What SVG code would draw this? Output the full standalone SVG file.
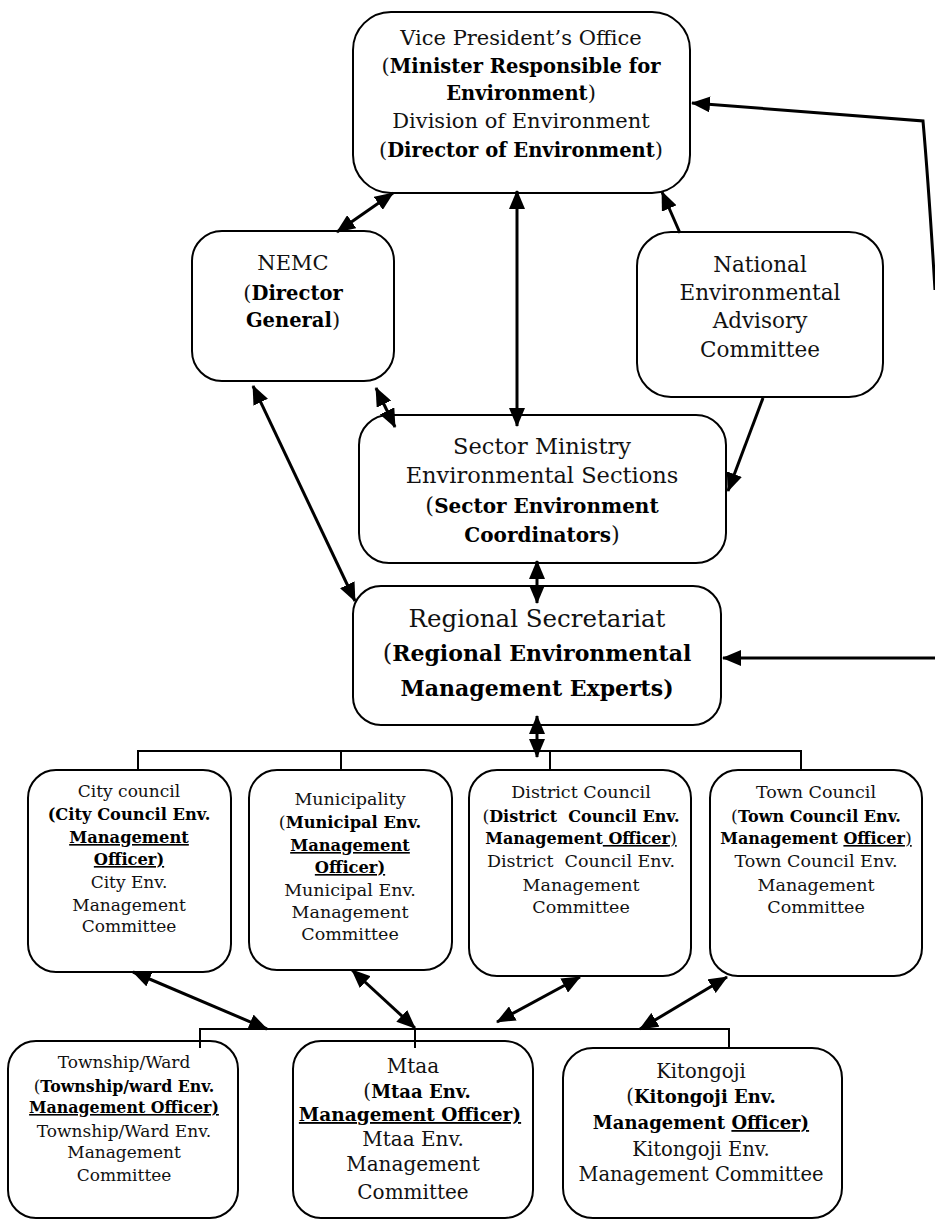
<svg xmlns="http://www.w3.org/2000/svg" width="935" height="1221" viewBox="0 0 935 1221">
<style>
.box{fill:#fff;stroke:#000;stroke-width:2}
.t{font-family:"DejaVu Serif","Liberation Serif",serif;fill:#111;text-anchor:middle}
.b{font-weight:bold;fill:#000}
.u{text-decoration:underline}
.pre{white-space:pre}
.conn{stroke:#000;stroke-width:3;fill:none}
.bus{stroke:#000;stroke-width:2;fill:none}
</style>
<defs>
<marker id="ah" markerUnits="userSpaceOnUse" markerWidth="20" markerHeight="16" refX="18" refY="8" orient="auto-start-reverse">
<path d="M0,0 L19,8 L0,16 Z" fill="#000"/>
</marker>
</defs>
<rect width="935" height="1221" fill="#fff"/>

<g id="vpo">
<rect class="box" x="353" y="12" width="337" height="181" rx="38"/>
<text class="t" font-size="21" x="521" y="45">Vice President’s Office</text>
<text class="t" font-size="21" x="521" y="73">(<tspan class="b" font-size="19.5">Minister Responsible for</tspan></text>
<text class="t" font-size="21" x="521" y="100"><tspan class="b" font-size="19.5">Environment</tspan>)</text>
<text class="t" font-size="21" x="521" y="128">Division of Environment</text>
<text class="t" font-size="21" x="521" y="157">(<tspan class="b" font-size="19.5">Director of Environment</tspan>)</text>
</g>

<g id="nemc">
<rect class="box" x="192" y="231" width="202" height="150" rx="30"/>
<text class="t" font-size="21" x="293" y="270">NEMC</text>
<text class="t" font-size="21" x="293" y="300">(<tspan class="b" font-size="19.5">Director</tspan></text>
<text class="t" font-size="21" x="293" y="327"><tspan class="b" font-size="19.5">General</tspan>)</text>
</g>

<g id="neac">
<rect class="box" x="637" y="232" width="246" height="165" rx="34"/>
<text class="t" font-size="21.5" x="760" y="272">National</text>
<text class="t" font-size="21.5" x="760" y="300">Environmental</text>
<text class="t" font-size="21.5" x="760" y="328">Advisory</text>
<text class="t" font-size="21.5" x="760" y="357">Committee</text>
</g>

<g id="sector">
<rect class="box" x="359" y="415" width="367" height="148" rx="30"/>
<text class="t" font-size="22.5" x="542" y="454">Sector Ministry</text>
<text class="t" font-size="22.5" x="542" y="483">Environmental Sections</text>
<text class="t" font-size="22.5" x="542" y="513">(<tspan class="b" font-size="20">Sector Environment</tspan></text>
<text class="t" font-size="22.5" x="542" y="542"><tspan class="b" font-size="20">Coordinators</tspan>)</text>
</g>

<g id="rs">
<rect class="box" x="353" y="586" width="368" height="139" rx="28"/>
<text class="t" font-size="24.5" x="537" y="627">Regional Secretariat</text>
<text class="t" font-size="24.5" x="537" y="661">(<tspan class="b" font-size="22">Regional Environmental</tspan></text>
<text class="t" font-size="24.5" x="537" y="696"><tspan class="b" font-size="22">Management Experts)</tspan></text>
</g>

<g id="city">
<rect class="box" x="28" y="770" width="203" height="202" rx="28"/>
<text class="t" font-size="17" x="129" y="797">City council</text>
<text class="t b" font-size="16.3" x="129" y="820">(City Council Env.</text>
<text class="t b u" font-size="16.3" x="129" y="843">Management</text>
<text class="t b u" font-size="16.3" x="129" y="865">Officer)</text>
<text class="t" font-size="17" x="129" y="888">City Env.</text>
<text class="t" font-size="17" x="129" y="911">Management</text>
<text class="t" font-size="17" x="129" y="932">Committee</text>
</g>

<g id="municipality">
<rect class="box" x="249" y="770" width="203" height="200" rx="28"/>
<text class="t" font-size="17.5" x="350" y="805">Municipality</text>
<text class="t" font-size="17.5" x="350" y="828">(<tspan class="b" font-size="16.3">Municipal Env.</tspan></text>
<text class="t b u" font-size="16.3" x="350" y="851">Management</text>
<text class="t b u" font-size="16.3" x="350" y="873">Officer)</text>
<text class="t" font-size="17.5" x="350" y="896">Municipal Env.</text>
<text class="t" font-size="17.5" x="350" y="918">Management</text>
<text class="t" font-size="17.5" x="350" y="940">Committee</text>
</g>

<g id="district">
<rect class="box" x="469" y="770" width="222" height="206" rx="28"/>
<text class="t" font-size="17.5" x="581" y="798">District Council</text>
<text class="t pre" font-size="17.5" x="581" y="822">(<tspan class="b" font-size="16">District  Council Env.</tspan></text>
<text class="t pre" font-size="17.5" x="581" y="844"><tspan class="b" font-size="16">Management</tspan><tspan class="b u" font-size="16"> Officer</tspan><tspan class="u">)</tspan></text>
<text class="t pre" font-size="17.5" x="581" y="867">District  Council Env.</text>
<text class="t" font-size="17.5" x="581" y="891">Management</text>
<text class="t" font-size="17.5" x="581" y="913">Committee</text>
</g>

<g id="town">
<rect class="box" x="710" y="770" width="212" height="206" rx="28"/>
<text class="t" font-size="17.5" x="816" y="798">Town Council</text>
<text class="t" font-size="17.5" x="816" y="822">(<tspan class="b" font-size="16">Town Council Env.</tspan></text>
<text class="t pre" font-size="17.5" x="816" y="844"><tspan class="b" font-size="16">Management </tspan><tspan class="b u" font-size="16">Officer</tspan><tspan class="u">)</tspan></text>
<text class="t" font-size="17.5" x="816" y="867">Town Council Env.</text>
<text class="t" font-size="17.5" x="816" y="891">Management</text>
<text class="t" font-size="17.5" x="816" y="913">Committee</text>
</g>

<g id="township">
<rect class="box" x="8" y="1041" width="230" height="177" rx="28"/>
<text class="t" font-size="17" x="124" y="1068">Township/Ward</text>
<text class="t" font-size="17" x="124" y="1092">(<tspan class="b" font-size="15.8">Township/ward Env.</tspan></text>
<text class="t b u" font-size="15.8" x="124" y="1113">Management Officer)</text>
<text class="t" font-size="17" x="124" y="1137">Township/Ward Env.</text>
<text class="t" font-size="17" x="124" y="1158">Management</text>
<text class="t" font-size="17" x="124" y="1181">Committee</text>
</g>

<g id="mtaa">
<rect class="box" x="293" y="1041" width="240" height="177" rx="28"/>
<text class="t" font-size="20" x="413" y="1073">Mtaa</text>
<text class="t" font-size="20" x="417" y="1098">(<tspan class="b" font-size="18">Mtaa Env.</tspan></text>
<text class="t b u" font-size="18.5" x="410" y="1121">Management Officer)</text>
<text class="t" font-size="20" x="413" y="1146">Mtaa Env.</text>
<text class="t" font-size="20" x="413" y="1171">Management</text>
<text class="t" font-size="20" x="413" y="1199">Committee</text>
</g>

<g id="kitongoji">
<rect class="box" x="563" y="1048" width="279" height="170" rx="30"/>
<text class="t" font-size="19.5" x="701" y="1078">Kitongoji</text>
<text class="t" font-size="19.5" x="701" y="1103">(<tspan class="b" font-size="18">Kitongoji Env.</tspan></text>
<text class="t pre" font-size="19.5" x="701" y="1129"><tspan class="b" font-size="18">Management </tspan><tspan class="b u" font-size="18">Officer)</tspan></text>
<text class="t" font-size="19.5" x="701" y="1156">Kitongoji Env.</text>
<text class="t" font-size="19.5" x="701" y="1181">Management Committee</text>
</g>

<g id="connectors">
<path class="bus" d="M138,770 V751 H801 V770 M341,751 V770 M550,751 V770"/>
<path class="bus" d="M200,1048 V1029 H729 V1048 M415,1029 V1048"/>
<line class="conn" x1="337" y1="232" x2="393" y2="193" marker-start="url(#ah)" marker-end="url(#ah)"/>
<line class="conn" x1="517" y1="191" x2="517" y2="426" marker-start="url(#ah)" marker-end="url(#ah)"/>
<line class="conn" x1="680" y1="233" x2="662" y2="192" marker-end="url(#ah)"/>
<line class="conn" x1="376" y1="388" x2="395" y2="427" marker-start="url(#ah)" marker-end="url(#ah)"/>
<line class="conn" x1="253" y1="386" x2="355" y2="601" marker-start="url(#ah)" marker-end="url(#ah)"/>
<line class="conn" x1="763" y1="398" x2="728" y2="491" marker-end="url(#ah)"/>
<line class="conn" x1="537" y1="561" x2="537" y2="603" marker-start="url(#ah)" marker-end="url(#ah)"/>
<line class="conn" x1="537" y1="716" x2="537" y2="757" marker-start="url(#ah)" marker-end="url(#ah)"/>
<line class="conn" x1="935" y1="658" x2="723" y2="658" marker-end="url(#ah)"/>
<path class="conn" stroke-width="2.5" d="M935,290 Q929,190 923,121 L692,103" marker-end="url(#ah)"/>
<line class="conn" x1="133" y1="972" x2="267" y2="1029" marker-start="url(#ah)" marker-end="url(#ah)"/>
<line class="conn" x1="352" y1="970" x2="415" y2="1028" marker-start="url(#ah)" marker-end="url(#ah)"/>
<line class="conn" x1="580" y1="977" x2="497" y2="1022" marker-start="url(#ah)" marker-end="url(#ah)"/>
<line class="conn" x1="727" y1="977" x2="640" y2="1029" marker-start="url(#ah)" marker-end="url(#ah)"/>
</g>
</svg>
